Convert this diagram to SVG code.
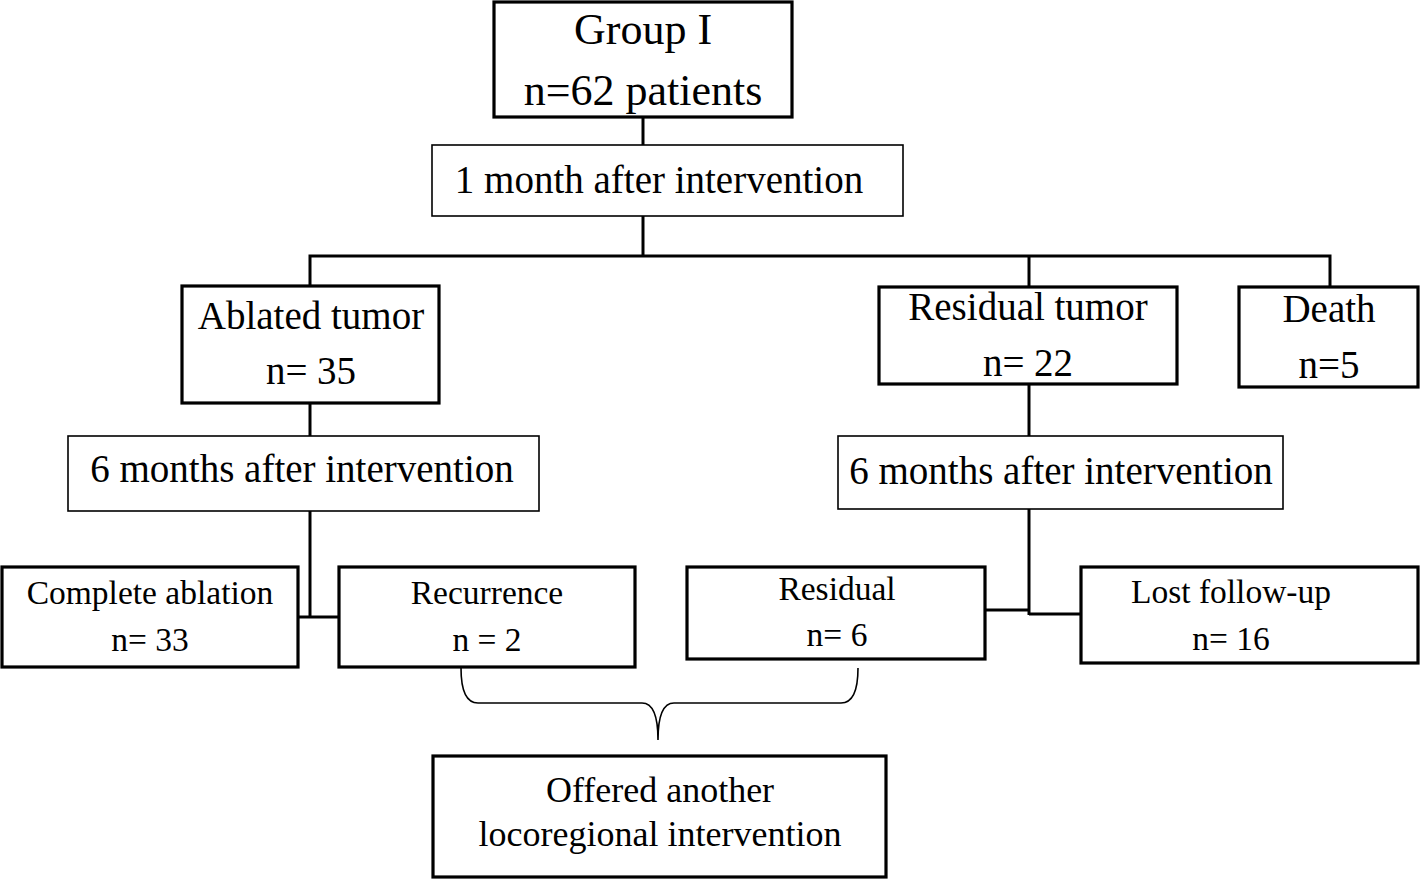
<svg xmlns="http://www.w3.org/2000/svg" width="1420" height="879" viewBox="0 0 1420 879">
<style>
.thick{fill:#fff;stroke:#000;stroke-width:3.2}
.thin{fill:#fff;stroke:#000;stroke-width:1.6}
.conn{fill:none;stroke:#000;stroke-width:3}
.brace{fill:none;stroke:#000;stroke-width:1.6}
text{font-family:"Liberation Serif","Times New Roman",serif;fill:#000;text-anchor:middle}
.t44{font-size:44px}
.t39{font-size:39px}
.t36{font-size:36px}
.t33{font-size:33.5px}
</style>
<rect width="1420" height="879" fill="#fff"/>
<g id="connectors">
<line class="conn" x1="643" y1="117" x2="643" y2="145"/>
<line class="conn" x1="643" y1="216" x2="643" y2="256"/>
<polyline class="conn" points="310,286 310,256 1330,256 1330,287"/>
<line class="conn" x1="1029" y1="256" x2="1029" y2="287"/>
<line class="conn" x1="310" y1="403" x2="310" y2="436"/>
<line class="conn" x1="1029" y1="384" x2="1029" y2="436"/>
<line class="conn" x1="310" y1="511" x2="310" y2="618"/>
<line class="conn" x1="298" y1="617" x2="339" y2="617"/>
<line class="conn" x1="1029" y1="509" x2="1029" y2="615"/>
<line class="conn" x1="985" y1="610" x2="1029" y2="610"/>
<line class="conn" x1="1029" y1="614" x2="1081" y2="614"/>
<path class="brace" d="M461,668 Q461,703 478,703 L642,703 Q658,703 658,740 M858,668 Q858,703 841,703 L674,703 Q658,703 658,740"/>
</g>
<g id="group1">
<rect class="thick" x="494" y="2" width="298" height="115"/>
<text class="t44" x="643" y="44">Group I</text>
<text class="t44" x="643" y="105">n=62 patients</text>
</g>
<g id="month1">
<rect class="thin" x="432" y="145" width="471" height="71"/>
<text class="t39" x="659" y="193">1 month after intervention</text>
</g>
<g id="ablated">
<rect class="thick" x="182" y="286" width="257" height="117"/>
<text class="t39" x="311" y="329">Ablated tumor</text>
<text class="t39" x="311" y="384">n= 35</text>
</g>
<g id="residualtumor">
<rect class="thick" x="879" y="287" width="298" height="97"/>
<text class="t39" x="1028" y="320">Residual tumor</text>
<text class="t39" x="1028" y="376">n= 22</text>
</g>
<g id="death">
<rect class="thick" x="1239" y="287" width="179" height="100"/>
<text class="t39" x="1329" y="322">Death</text>
<text class="t39" x="1329" y="378">n=5</text>
</g>
<g id="months6left">
<rect class="thin" x="68" y="436" width="471" height="75"/>
<text class="t39" x="302" y="482">6 months after intervention</text>
</g>
<g id="months6right">
<rect class="thin" x="838" y="436" width="445" height="73"/>
<text class="t39" x="1061" y="484">6 months after intervention</text>
</g>
<g id="complete">
<rect class="thick" x="2" y="567" width="296" height="100"/>
<text class="t33" x="150" y="604">Complete ablation</text>
<text class="t33" x="150" y="651">n= 33</text>
</g>
<g id="recurrence">
<rect class="thick" x="339" y="567" width="296" height="100"/>
<text class="t33" x="487" y="604">Recurrence</text>
<text class="t33" x="487" y="651">n = 2</text>
</g>
<g id="residual">
<rect class="thick" x="687" y="567" width="298" height="92"/>
<text class="t33" x="837" y="600">Residual</text>
<text class="t33" x="837" y="646">n= 6</text>
</g>
<g id="lost">
<rect class="thick" x="1081" y="567" width="337" height="96"/>
<text class="t33" x="1231" y="603">Lost follow-up</text>
<text class="t33" x="1231" y="650">n= 16</text>
</g>
<g id="offered">
<rect class="thick" x="433" y="756" width="453" height="121"/>
<text class="t36" x="660" y="802">Offered another</text>
<text class="t36" x="660" y="846">locoregional intervention</text>
</g>
</svg>
